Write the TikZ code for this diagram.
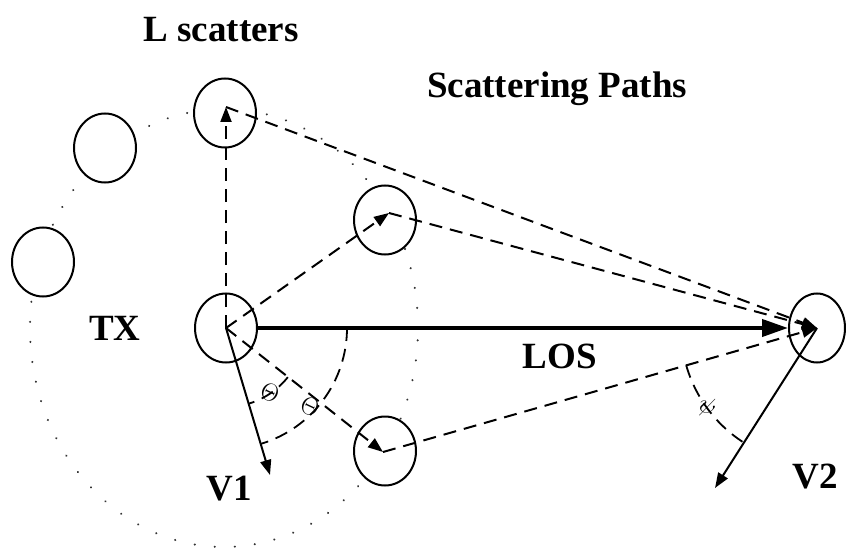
\documentclass[tikz,border=0pt]{standalone}
\usepackage{fontspec}
\setmainfont{Liberation Serif}
\usetikzlibrary{shapes.geometric,arrows.meta,calc}
\tikzset{
  scat/.style={ellipse,draw,line width=2pt,minimum width=62pt,minimum height=69pt,inner sep=0pt,fill=white},
  pathdash/.style={line width=2pt,dash pattern=on 13pt off 8pt},
  arcdash/.style={line width=1.8pt,dash pattern=on 13pt off 8pt},
  tipA/.style={-{Triangle[length=15pt,width=11pt]}},
  dotring/.style={line width=2.2pt,dash pattern=on 0.1pt off 20pt,line cap=round,black!80},
  lbl/.style={font=\bfseries\fontsize{37}{40}\selectfont,anchor=base,inner sep=0pt},
  anglbl/.style={font=\fontsize{24}{24}\selectfont,inner sep=0pt}
}
\begin{document}
\begin{tikzpicture}[x=1pt,y=1pt]
\useasboundingbox (0,0) rectangle (846,550);
% dotted ring of scatterers
\draw[dotring] (224,222) ellipse [x radius=194, y radius=219];
% scatterers, transmitter, receiver
\node[scat] (s1) at (225,437) {};
\node[scat] (s2) at (105,402) {};
\node[scat] (s3) at (43,288) {};
\node[scat] (s4) at (385,330) {};
\node[scat] (s5) at (385,99) {};
\node[scat] (tx) at (226,222) {};
\node[scat,minimum width=56pt] (rx) at (817,222) {};
% scattering tips
\coordinate (p1) at (226,443);
\coordinate (p2) at (389,337);
\coordinate (p3) at (383,98);
\coordinate (v1) at (270,75);
\coordinate (v2) at (715,62);
% scattering paths
\draw[pathdash,tipA] (tx.center) -- (p1);
\draw[pathdash,tipA] (tx.center) -- (p2);
\draw[pathdash,tipA] (tx.center) -- (p3);
\draw[pathdash,tipA] (p1) -- (rx.center);
\draw[pathdash,tipA] (p2) -- (rx.center);
\draw[pathdash,tipA] (p3) -- (rx.center);
% LOS
\draw[line width=4pt,-{Triangle[length=26pt,width=17pt]}] (tx.east) -- (rx.west);
% velocities
\draw[line width=2pt,tipA] (tx.center) -- (v1);
\draw[line width=2pt,tipA] (rx.center) -- (v2);
% angle arcs
\draw[arcdash] ($(tx.center)+(0:121)$) arc[start angle=0,end angle=-73.3,radius=121];
\draw[arcdash] ($(tx.center)+(-38.5:79)$) arc[start angle=-38.5,end angle=-73.3,radius=79];
\draw[arcdash] ($(rx.center)+(195.9:136)$) arc[start angle=195.9,end angle=237.2,radius=136];
\node[anglbl,rotate=-25] (th1) at (270,157) {$\Theta$};
\node[anglbl,rotate=-25] (th2) at (310,143) {$\Theta$};
\node[anglbl,rotate=-30] (psi) at (707,143) {$\psi$};
% labels
\node[lbl] (lsc) at (221,508) {L scatters};
\node[lbl] (scp) at (557,452) {Scattering Paths};
\node[lbl] (txl) at (115,210) {TX};
\node[lbl] (v1l) at (229,50) {V1};
\node[lbl] (los) at (560,182) {LOS};
\node[lbl] (v2l) at (815,62) {V2};
\end{tikzpicture}
\end{document}
